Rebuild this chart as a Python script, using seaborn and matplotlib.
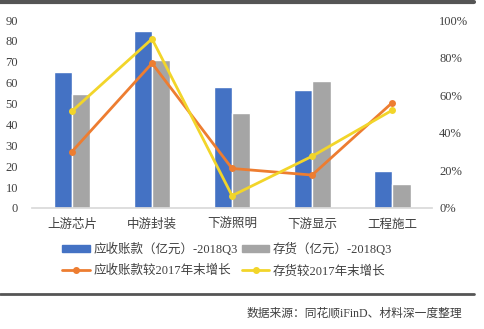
import matplotlib
matplotlib.use("Agg")
import matplotlib.pyplot as plt
import matplotlib.lines as mlines
import seaborn as sns
import pandas as pd
import numpy as np

categories = ["上游芯片", "中游封装", "下游照明", "下游显示", "工程施工"]
receivables = [65, 85, 58, 56.5, 17.5]
inventory = [54.5, 71, 45.5, 61, 11.5]
recv_growth = [0.30, 0.77, 0.21, 0.175, 0.56]
inv_growth = [0.515, 0.90, 0.065, 0.275, 0.52]

bar_names = ["应收账款（亿元）-2018Q3", "存货（亿元）-2018Q3"]
line_names = ["应收账款较2017年末增长", "存货较2017年末增长"]

sns.set_theme(style="white")
FAM = ["Liberation Serif", "Noto Sans CJK SC", "DejaVu Sans"]
plt.rcParams["font.family"] = FAM
TXT = "#404040"

bars = pd.DataFrame({
    "cat": categories * 2,
    "val": receivables + inventory,
    "series": [bar_names[0]] * 5 + [bar_names[1]] * 5,
})
lines = pd.DataFrame({
    "x": list(range(5)) * 2,
    "val": recv_growth + inv_growth,
    "series": [line_names[0]] * 5 + [line_names[1]] * 5,
})

fig = plt.figure(figsize=(4.84, 3.29), dpi=100)
ax = fig.add_axes([0.066, 0.368, 0.827, 0.571])
bar_colors = ["#4472C4", "#A5A5A5"]
sns.barplot(data=bars, x="cat", y="val", hue="series", palette=bar_colors,
            width=0.46, gap=0, ax=ax, legend=False, saturation=1)
ax.set_ylim(0, 90)
ax.set_yticks(range(0, 91, 10))
ax.set_xlim(-0.5, 4.5)
ax.set_xlabel("")
ax.set_ylabel("")
for s in ["top", "right", "left"]:
    ax.spines[s].set_visible(False)
ax.spines["bottom"].set_color("#D9D9D9")
ax.tick_params(axis="y", length=0, labelsize=9, colors=TXT, pad=10)
ax.tick_params(axis="x", length=0, labelsize=9, colors=TXT, pad=8)

ax2 = ax.twinx()
line_colors = ["#ED7D31", "#F2D52A"]
sns.lineplot(data=lines, x="x", y="val", hue="series", palette=line_colors,
             marker="o", markersize=5, markeredgewidth=0, linewidth=2,
             ax=ax2, legend=False)
ax2.set_ylim(0, 1)
ax2.set_yticks(np.arange(0, 1.01, 0.2))
ax2.set_yticklabels([f"{int(round(v*100))}%" for v in np.arange(0, 1.01, 0.2)])
ax2.set_ylabel("")
ax2.set_xlabel("")
for s in ["top", "right", "left", "bottom"]:
    ax2.spines[s].set_visible(False)
ax2.tick_params(axis="y", length=0, labelsize=9, colors=TXT, pad=5)
ax2.set_xlim(-0.5, 4.5)

handles = [
    plt.Rectangle((0, 0), 1, 1, color=bar_colors[0]),
    mlines.Line2D([], [], color=line_colors[0], marker="o", markersize=4, lw=2),
    plt.Rectangle((0, 0), 1, 1, color=bar_colors[1]),
    mlines.Line2D([], [], color=line_colors[1], marker="o", markersize=4, lw=2),
]
labels = [bar_names[0], line_names[0], bar_names[1], line_names[1]]
leg = fig.legend(handles, labels, loc="center", bbox_to_anchor=(0.47, 0.21),
                 ncol=2, frameon=False, fontsize=9, handlelength=2.2,
                 handleheight=0.5, columnspacing=0.3, handletextpad=0.3,
                 labelspacing=0.75)
for t in leg.get_texts():
    t.set_color(TXT)

fig.add_artist(mlines.Line2D([0, 0.98], [0.995, 0.995], color="#555555", lw=3,
                             transform=fig.transFigure))
fig.add_artist(mlines.Line2D([0, 0.98], [0.105, 0.105], color="#555555", lw=2,
                             transform=fig.transFigure))
fig.text(0.955, 0.048, "数据来源：同花顺iFinD、材料深一度整理", ha="right", va="center",
         fontsize=8.5, color=TXT)

fig.savefig("out.png", dpi=100, facecolor="white")
